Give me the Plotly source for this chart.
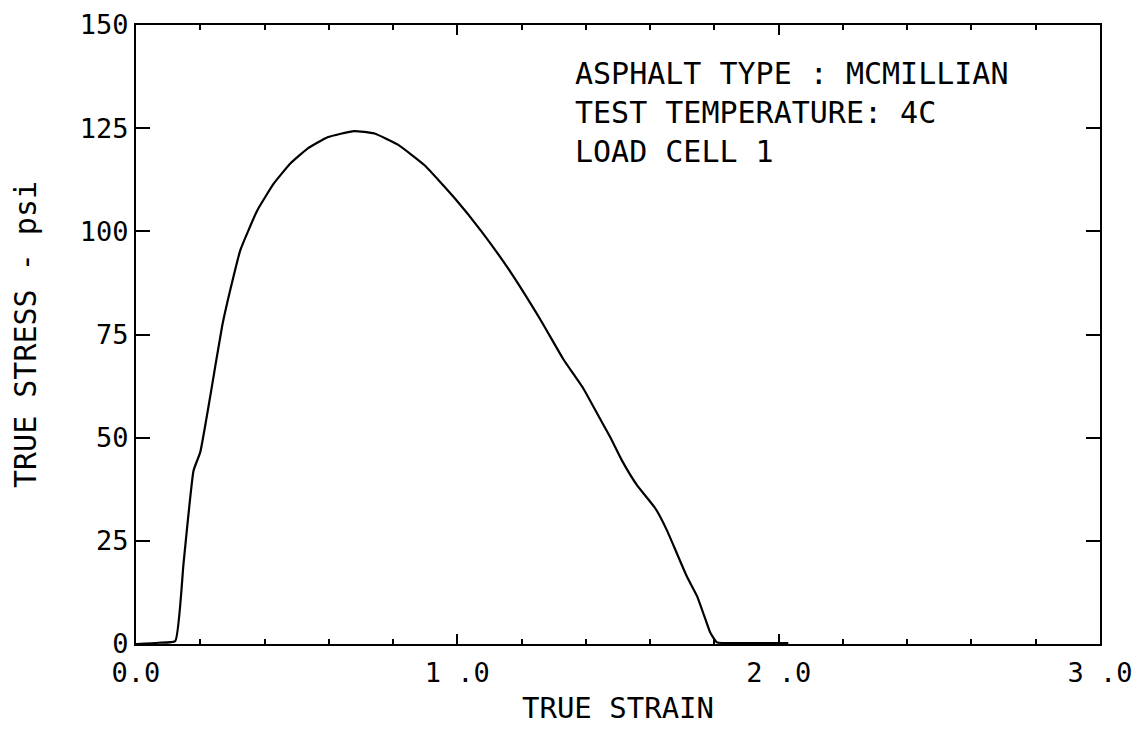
import plotly.graph_objects as go

strain = [0.0, 0.07, 0.122, 0.148, 0.179, 0.2, 0.231, 0.268, 0.294, 0.325, 0.377,
          0.429, 0.481, 0.533, 0.596, 0.679, 0.742, 0.815, 0.898, 0.992, 1.075,
          1.158, 1.26, 1.330, 1.393, 1.439, 1.476, 1.512, 1.559, 1.616, 1.652,
          1.683, 1.714, 1.746, 1.772, 1.787, 1.808, 1.9, 2.03]
stress = [0.0, 0.3, 0.7, 19.6, 42.0, 46.5, 60.0, 77.0, 86.0, 95.5, 105.0,
          111.6, 116.5, 120.0, 122.8, 124.3, 123.7, 121.0, 116.0, 108.0, 100.0,
          91.0, 78.4, 69.0, 61.8, 55.3, 50.1, 44.5, 38.5, 32.9, 27.6,
          22.0, 16.4, 11.6, 6.0, 2.8, 0.4, 0.2, 0.2]

x_tickvals = [0, 1, 2, 3]
x_ticktext = ["0.0", "1 .0", "2 .0", "3 .0"]
y_tickvals = [0, 25, 50, 75, 100, 125, 150]
y_ticktext = ["0", "25", "50", "75", "100", "125", "150"]

notes = ["ASPHALT TYPE : MCMILLIAN", "TEST TEMPERATURE: 4C", "LOAD CELL 1"]
note_y = [138.3, 128.7, 119.4]

FONT = "DejaVu Sans Mono"

fig = go.Figure()
fig.add_trace(go.Scatter(x=strain, y=stress, mode="lines",
                         line=dict(color="black", width=2.2, shape="spline", smoothing=0.4),
                         showlegend=False))

for t, yy in zip(notes, note_y):
    fig.add_annotation(x=1.36, y=yy, xref="x", yref="y", text=t, showarrow=False,
                       xanchor="left", yanchor="middle",
                       font=dict(family=FONT, size=30, color="black"))

fig.update_layout(
    width=1144, height=731,
    margin=dict(l=128, r=52, t=17, b=95),
    paper_bgcolor="white", plot_bgcolor="white",
    font=dict(family=FONT, color="black"),
)
fig.update_xaxes(
    range=[0, 3], tickvals=x_tickvals, ticktext=x_ticktext, automargin=False,
    ticks="inside", ticklen=10, tickwidth=2, tickcolor="black",
    minor=dict(dtick=0.2, ticks="inside", ticklen=5, tickwidth=2, tickcolor="black"),
    showline=True, linecolor="black", linewidth=2, mirror="ticks",
    showgrid=False, zeroline=False, ticklabelstandoff=4, ticklabeloverflow="allow",
    tickfont=dict(family=FONT, size=27, color="black"),
    title=dict(text="TRUE STRAIN", font=dict(family=FONT, size=29, color="black"), standoff=10),
)
fig.update_yaxes(
    range=[0, 150], tickvals=y_tickvals, ticktext=y_ticktext, automargin=False,
    ticks="inside", ticklen=14, tickwidth=2, tickcolor="black",
    showline=True, linecolor="black", linewidth=2, mirror="ticks",
    showgrid=False, zeroline=False, ticklabeloverflow="allow",
    tickfont=dict(family=FONT, size=27, color="black"),
    title=dict(text="TRUE STRESS - psi", font=dict(family=FONT, size=30, color="black"), standoff=38),
)

fig.write_html("out.html")
